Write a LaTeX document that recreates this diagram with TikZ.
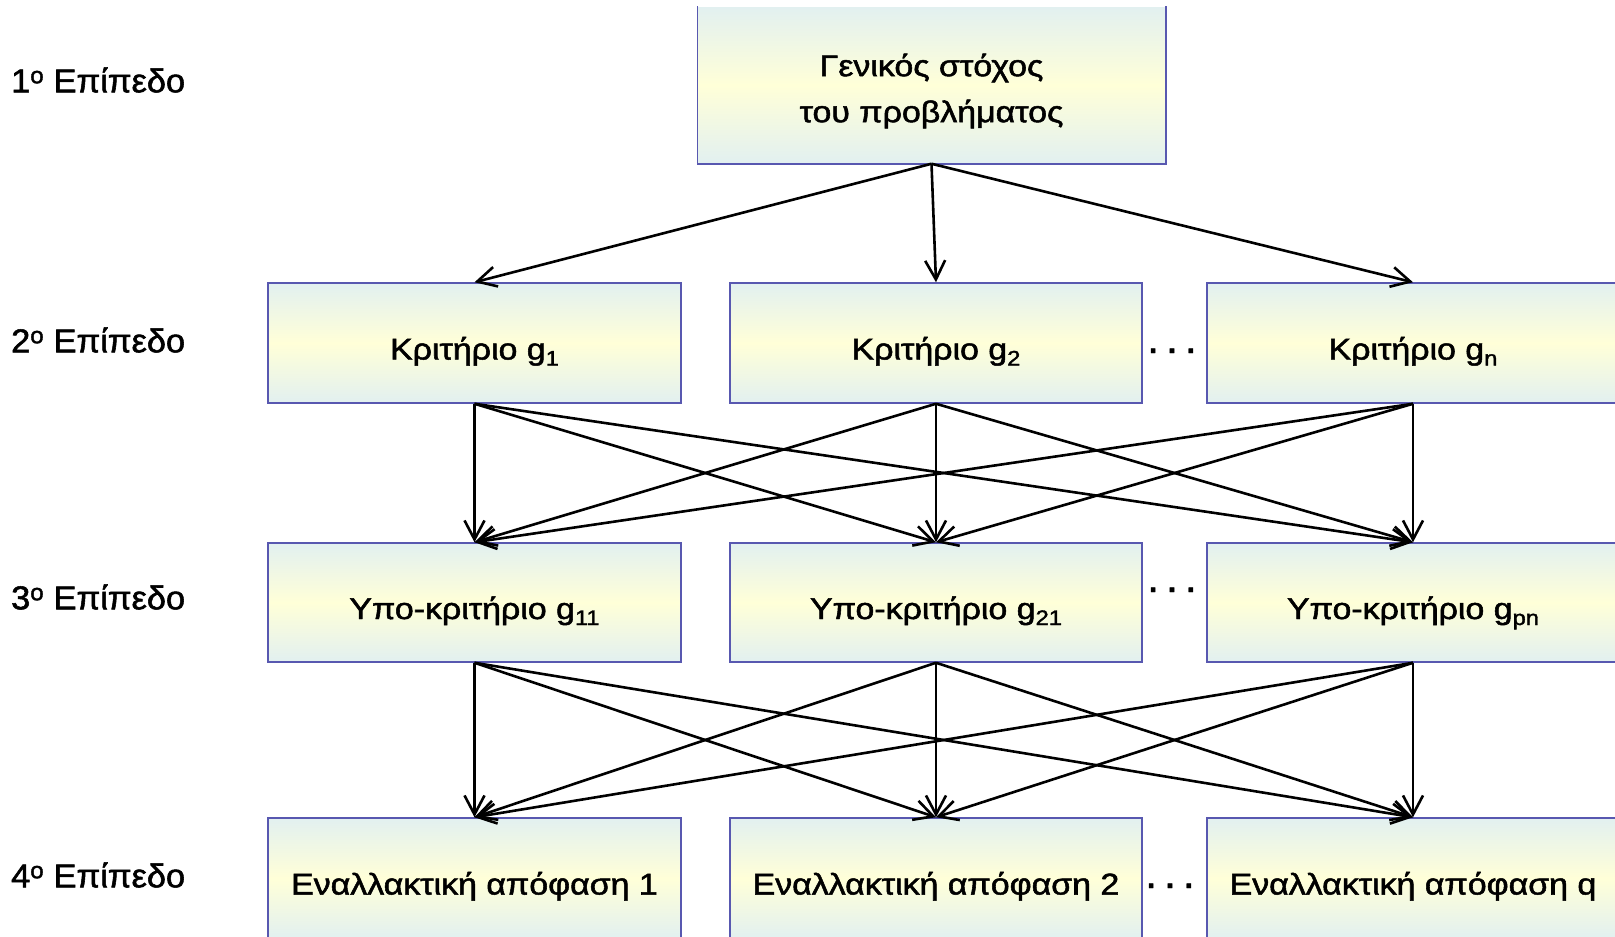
\documentclass[tikz,border=0pt]{standalone}
\usepackage{fontspec}
\setmainfont{Liberation Sans}
\newfontfamily\heavy{Liberation Sans}[FakeBold=1.6]
\newfontfamily\heavyb{Liberation Sans Bold}[FakeBold=1.5]
\usetikzlibrary{arrows.meta}
\definecolor{boxedge}{RGB}{226,240,240}
\definecolor{boxmid}{RGB}{255,255,216}
\definecolor{boxline}{RGB}{88,88,176}
\newcommand{\wtxt}[1]{\scalebox{1.13}[1]{#1}}
\newcommand{\subs}[1]{\raisebox{-6pt}{\fontsize{21}{21}\selectfont #1}}
\tikzset{
  box/.style={draw=boxline, line width=1.5pt, top color=boxedge, bottom color=boxedge,
    middle color=boxmid, inner sep=0pt, minimum width=412pt, minimum height=120pt,
    text height=33pt, text depth=0pt, font=\heavy\fontsize{30}{34}\selectfont},
  txt/.style={inner sep=0pt, align=center, font=\heavy\fontsize{30}{46}\selectfont},
  lvl/.style={anchor=west, inner sep=0pt, font=\heavy\fontsize{33}{38}\selectfont},
  dotsn/.style={anchor=base, inner sep=0pt, font=\heavyb\fontsize{29}{34}\selectfont},
  arr/.style={line width=2.6pt, -{Straight Barb[length=19pt,width=20pt,line width=2.6pt]}}
}
\begin{document}
\begin{tikzpicture}[x=1pt,y=-1pt]
\useasboundingbox[fill=white] (0,0) rectangle (1615,937);
% level labels
\node[lvl] (l1) at (11,80) {\scalebox{1.04}[1]{1\textsuperscript{o} Επίπεδο}};
\node[lvl] (l2) at (11,340) {\scalebox{1.04}[1]{2\textsuperscript{o} Επίπεδο}};
\node[lvl] (l3) at (11,597) {\scalebox{1.04}[1]{3\textsuperscript{o} Επίπεδο}};
\node[lvl] (l4) at (11,875) {\scalebox{1.04}[1]{4\textsuperscript{o} Επίπεδο}};
% level 1
\node[box, draw=none, minimum width=467pt, minimum height=156pt] (t) at (931.5,85) {};
\draw[boxline, line width=1.5pt] (t.north west) -- (t.south west) -- (t.south east) -- (t.north east);
\node[txt] (tt) at ([yshift=-6pt]t.center) {\wtxt{Γενικός στόχος}\\\wtxt{του προβλήματος}};
% level 2
\node[box, minimum width=413pt] (a1) at (474.5,343) {\wtxt{Κριτήριο g\subs{1}}};
\node[box] (a2) at (936,343) {\wtxt{Κριτήριο g\subs{2}}};
\node[box] (a3) at (1413,343) {\wtxt{Κριτήριο g\subs{n}}};
% level 3
\node[box, minimum width=413pt, minimum height=119pt] (b1) at (474.5,602.5) {\wtxt{Υπο-κριτήριο g\subs{11}}};
\node[box, minimum height=119pt] (b2) at (936,602.5) {\wtxt{Υπο-κριτήριο g\subs{21}}};
\node[box, minimum height=119pt] (b3) at (1413,602.5) {\wtxt{Υπο-κριτήριο g\subs{pn}}};
% level 4
\node[box, minimum width=413pt] (c1) at (474.5,878) {\wtxt{Εναλλακτική απόφαση 1}};
\node[box] (c2) at (936,878) {\wtxt{Εναλλακτική απόφαση 2}};
\node[box] (c3) at (1413,878) {\wtxt{Εναλλακτική απόφαση q}};
% dots
\node[dotsn] (d2) at (1172,353) {. . .};
\node[dotsn] (d3) at (1172,592) {. . .};
\node[dotsn] (d4) at (1170,888) {. . .};
% arrows
\foreach \x in {a1,a2,a3} \draw[arr] (t.south) -- (\x.north);
\foreach \s in {a1,a2,a3} \foreach \e in {b1,b2,b3} \draw[arr] (\s.south) -- (\e.north);
\foreach \s in {b1,b2,b3} \foreach \e in {c1,c2,c3} \draw[arr] (\s.south) -- (\e.north);
\end{tikzpicture}
\end{document}
